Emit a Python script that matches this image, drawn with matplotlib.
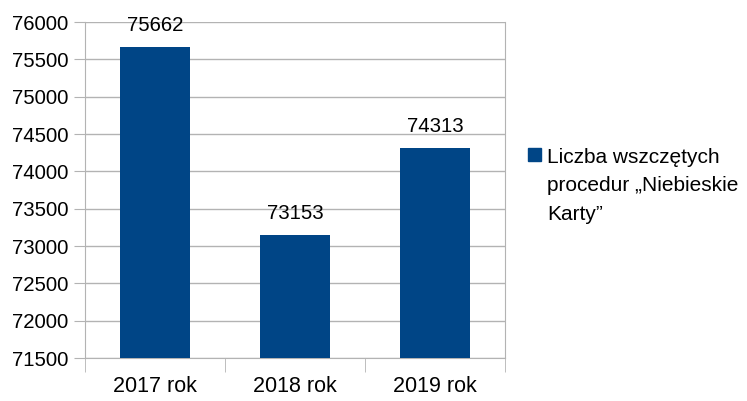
import matplotlib.pyplot as plt
from matplotlib.patches import Patch

plt.rcParams['font.family'] = ['Liberation Sans', 'DejaVu Sans']

# Dane
lata = ['2017 rok', '2018 rok', '2019 rok']
liczba_procedur = [75662, 73153, 74313]
etykieta_serii = 'Liczba wszczętych\nprocedur „Niebieskie\nKarty”'
ticki_y = [71500, 72000, 72500, 73000, 73500, 74000, 74500, 75000, 75500, 76000]

kolor = '#004586'
szary = '#b3b3b3'

fig = plt.figure(figsize=(7.47, 4.01), dpi=100)
ax = fig.add_axes([85 / 747, 1 - 358 / 401, 420 / 747, 336 / 401])

x = list(range(len(lata)))
ax.bar(x, [v - ticki_y[0] for v in liczba_procedur], bottom=ticki_y[0],
       width=0.5, color=kolor, zorder=3)

# Etykiety wartości nad słupkami
for xi, v in zip(x, liczba_procedur):
    ax.annotate(str(v), (xi, v), xytext=(0, 8.5), textcoords='offset points',
                ha='center', va='bottom', fontsize=14.7)

ax.set_xlim(-0.5, 2.5)
ax.set_ylim(ticki_y[0], ticki_y[-1])
ax.set_yticks(ticki_y)
ax.set_xticks(x)
ax.set_xticklabels(lata)
ax.set_xticks([-0.5, 0.5, 1.5, 2.5], minor=True)

ax.tick_params(axis='y', length=8, color=szary, labelsize=14.7, pad=4)
ax.tick_params(axis='x', which='major', length=0, labelsize=15.5, pad=13)
ax.tick_params(axis='x', which='minor', length=10, color=szary)

ax.grid(axis='y', color=szary, linewidth=1, zorder=0)
ax.set_axisbelow(True)
for s in ['left', 'bottom', 'right']:
    ax.spines[s].set_color(szary)
ax.spines['top'].set_visible(False)

uchwyt = Patch(facecolor=kolor, edgecolor=kolor)
leg = fig.legend([uchwyt], [etykieta_serii], loc='upper left',
                 bbox_to_anchor=(528 / 747, 1 - 148 / 401), frameon=False,
                 fontsize=15, handlelength=0.62, handleheight=0.62,
                 handletextpad=0.3, borderpad=0, borderaxespad=0)
for t in leg.get_texts():
    t.set_linespacing(1.62)
    t.set_multialignment('left')
# kwadrat legendy wyrównany do pierwszej linii
for kolumna in leg._legend_handle_box.get_children():
    for box in kolumna.get_children():
        box.align = 'top'

fig.savefig('out.png', dpi=100)
